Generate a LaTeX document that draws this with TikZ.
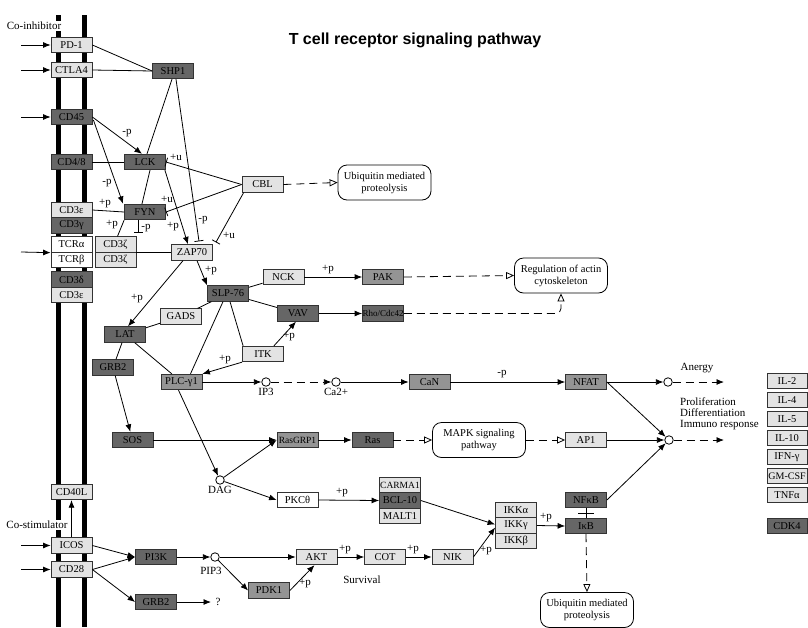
\documentclass[tikz,border=0pt]{standalone}
\usepackage{fontspec}
\setmainfont{Liberation Serif}
\newfontfamily\titlefont{Liberation Sans}
\usepackage{xcolor}
\usepackage{tikz}
\usetikzlibrary{calc,arrows.meta}

\definecolor{darkgene}{gray}{0.40}
\definecolor{midgene}{gray}{0.58}
\definecolor{lightgene}{gray}{0.89}

\tikzset{
  gene/.style={draw=black!80, line width=0.8pt, fill=lightgene, minimum width=41pt,
    minimum height=15.5pt, inner sep=0pt, font=\fontsize{10.5}{11}\selectfont},
  dark/.style={gene, fill=darkgene},
  mid/.style={gene, fill=midgene},
  blank/.style={gene, fill=white},
  cpd/.style={circle, draw, line width=0.8pt, fill=white, minimum size=8.5pt, inner sep=0pt},
  map/.style={draw, line width=0.8pt, rounded corners=9pt, minimum width=93pt,
    minimum height=35pt, inner sep=0pt, align=center, font=\fontsize{10.5}{12}\selectfont},
  lab/.style={inner sep=1pt, font=\fontsize{11}{11}\selectfont},
  link/.style={line width=0.8pt},
  act/.style={link, -{Latex[length=7.5pt,width=6pt]}},
  inh/.style={link, -{Bar[width=9pt,line width=0.8pt]}},
  ind/.style={link, dash pattern=on 8pt off 5pt, -{Triangle[open,length=8pt,width=7pt]}},
  indf/.style={link, dash pattern=on 8pt off 5pt, -{Latex[length=7.5pt,width=6pt]}},
}

\begin{document}
\begin{tikzpicture}[x=1pt,y=-1pt]
  \useasboundingbox (0,0) rectangle (808,627);

  % Title
  \node[font=\titlefont\bfseries\fontsize{16}{18}\selectfont] (title) at (415,40) {T cell receptor signaling pathway};

  % Membrane
  \draw[line width=5pt] (58.5,15) -- (58.5,627);
  \draw[line width=5pt] (84.5,15) -- (84.5,627);
  \node[lab,fill=white] (coinh) at (34,26) {Co-inhibitor};
  \node[lab,fill=white] (costim) at (37,525) {Co-stimulator};

  % Receptors on the membrane
  \node[gene] (PD1) at (71.5,45) {PD-1};
  \node[gene] (CTLA4) at (71.5,70) {CTLA4};
  \node[dark] (CD45) at (71.5,117) {CD45};
  \node[dark] (CD48) at (71.5,162) {CD4/8};
  \node[gene] (CD3e) at (71.5,210) {CD3ε};
  \node[dark] (CD3g) at (71.5,225.5) {CD3γ};
  \node[blank] (TCRa) at (71.5,244.5) {TCRα};
  \node[blank] (TCRb) at (71.5,260) {TCRβ};
  \node[gene] (CD3za) at (115.5,244.5) {CD3ζ};
  \node[gene] (CD3zb) at (115.5,260) {CD3ζ};
  \node[dark] (CD3d) at (71.5,279.5) {CD3δ};
  \node[gene] (CD3e2) at (71.5,295) {CD3ε};
  \node[gene] (CD40L) at (71.5,492) {CD40L};
  \node[gene] (ICOS) at (71.5,545.5) {ICOS};
  \node[gene] (CD28) at (71.5,569.5) {CD28};

  % Proximal signalling
  \node[dark] (SHP1) at (173,71) {SHP1};
  \node[dark] (LCK) at (145,162) {LCK};
  \node[dark] (FYN) at (145,212) {FYN};
  \node[gene] (CBL) at (262.5,184.5) {CBL};
  \node[gene] (ZAP70) at (192,252.5) {ZAP70};
  \node[dark] (SLP76) at (228,293.5) {SLP-76};
  \node[gene] (NCK) at (283.5,277) {NCK};
  \node[mid] (PAK) at (383,277) {PAK};
  \node[dark] (VAV) at (298,313.5) {VAV};
  \node[dark,font=\fontsize{9}{9}\selectfont] (RhoCdc) at (383,313.5) {Rho/Cdc42};
  \node[gene] (GADS) at (181,316.5) {GADS};
  \node[dark] (LAT) at (125,334.5) {LAT};
  \node[gene] (ITK) at (263,354) {ITK};
  \node[dark] (GRB2a) at (113,367.5) {GRB2};
  \node[mid] (PLC) at (181.5,382) {PLC-γ1};

  % Second messengers
  \node[cpd] (IP3) at (266,382) {};
  \node[cpd] (Ca) at (336,382) {};
  \node[cpd] (DAG) at (220,480) {};
  \node[cpd] (PIP3) at (215,557) {};
  \node[cpd] (Anergy) at (668,382) {};
  \node[cpd] (Prolif) at (669,440) {};
  \node[lab,below] (IP3lab) at (IP3.south) {IP3};
  \node[lab,below] (Calab) at (Ca.south) {Ca2+};
  \node[lab,below] (DAGlab) at (DAG.south) {DAG};
  \node[lab] (PIP3lab) at (211,571) {PIP3};

  % Downstream
  \node[mid] (CaN) at (429.5,382) {CaN};
  \node[mid] (NFAT) at (586,382) {NFAT};
  \node[gene] (AP1) at (586,440) {AP1};
  \node[map] (MAPK) at (479,440) {MAPK signaling\\pathway};
  \node[dark] (Ras) at (372.5,440) {Ras};
  \node[mid,font=\fontsize{9.5}{10}\selectfont] (RasGRP) at (297.5,440) {RasGRP1};
  \node[dark] (SOS) at (132.5,440) {SOS};
  \node[blank] (PKC) at (297.5,500) {PKCθ};
  \node[gene,font=\fontsize{9.5}{10}\selectfont] (CARMA) at (400,485) {CARMA1};
  \node[dark] (BCL) at (400,500.5) {BCL-10};
  \node[gene] (MALT) at (400,516) {MALT1};
  \node[gene] (IKKa) at (516,510) {IKKα};
  \node[gene] (IKKg) at (516,525.5) {IKKγ};
  \node[gene] (IKKb) at (516,541) {IKKβ};
  \node[dark] (NFkB) at (586,500) {NFκB};
  \node[dark] (IkB) at (586,526) {IκB};

  % Linked pathways
  \node[map] (UbqA) at (384.5,182.5) {Ubiquitin mediated\\proteolysis};
  \node[map] (UbqB) at (587,610) {Ubiquitin mediated\\proteolysis};
  \node[map] (Actin) at (561,275.5) {Regulation of actin\\cytoskeleton};

  % Co-stimulation branch
  \node[dark] (PI3K) at (156,557) {PI3K};
  \node[dark] (GRB2b) at (156,602) {GRB2};
  \node[mid] (PDK1) at (269,590.5) {PDK1};
  \node[gene] (AKT) at (316.5,557) {AKT};
  \node[gene] (COT) at (385,557) {COT};
  \node[gene] (NIK) at (452.5,557) {NIK};

  % Cytokines
  \node[gene,minimum width=40pt] (IL2) at (787,381) {IL-2};
  \node[gene,minimum width=40pt] (IL4) at (787,400) {IL-4};
  \node[gene,minimum width=40pt] (IL5) at (787,419) {IL-5};
  \node[gene,minimum width=40pt] (IL10) at (787,438) {IL-10};
  \node[gene,minimum width=40pt] (IFNg) at (787,457) {IFN-γ};
  \node[gene,minimum width=40pt,font=\fontsize{10}{10}\selectfont] (GMCSF) at (787,476) {GM-CSF};
  \node[gene,minimum width=40pt] (TNFa) at (787,495) {TNFα};
  \node[dark,minimum width=40pt] (CDK4) at (787,526) {CDK4};

  % Outcome texts
  \node[lab] (anergylab) at (697,368) {Anergy};
  \node[lab,anchor=west,align=left] (proliflab) at (679,414) {Proliferation\\Differentiation\\Immuno response};
  \node[lab] (survlab) at (362,580) {Survival};
  \node[lab] (unknown) at (218,602) {?};

  % Free ends
  \coordinate (inPD1) at (21,45);
  \coordinate (inCTLA4) at (21,70);
  \coordinate (inCD45) at (21,117);
  \coordinate (inTCR) at (21,252);
  \coordinate (inICOS) at (21,545.5);
  \coordinate (inCD28) at (21,569.5);
  \coordinate (fynbar) at ($(FYN.south)+(-7,13)$);
  \coordinate (outA) at (724,382);
  \coordinate (outB) at (724,440);
  \coordinate (toUnknown) at (211,602);

  % Inputs from outside
  \draw[act] (inPD1) -- (PD1.west);
  \draw[act] (inCTLA4) -- (CTLA4.west);
  \draw[act] (inCD45) -- (CD45.west);
  \draw[act] (inTCR) -- (TCRa.south west);
  \draw[act] (inICOS) -- (ICOS.west);
  \draw[act] (inCD28) -- (CD28.west);

  % Proximal links
  \draw[link] (PD1.east) -- (SHP1.west);
  \draw[link] (CTLA4.east) -- (SHP1.west);
  \draw[link] ($(SHP1.south)+(-1,0)$) -- ($(LCK.north)+(2,0)$);
  \draw[inh] ($(SHP1.south)+(3,0)$) -- ($(ZAP70.north)+(7,-3)$);
  \draw[act] (CD45.east) -- ($(LCK.north)+(-3,0)$);
  \draw[act] ($(CD45.east)+(1,3)$) -- ($(FYN.north west)+(-1,0)$);
  \draw[link] (CD48.east) -- (LCK.west);
  \draw[link] (CD3e.east) -- (FYN.west);
  \draw[link] ($(LCK.south)+(5,0)$) -- ($(FYN.north)+(-3,0)$);
  \draw[link] (FYN.south west) -- ($(CD3za.north)+(2,0)$);
  \draw[inh] ($(FYN.south)+(-7,0)$) -- (fynbar);
  \draw[act] ($(LCK.south east)+(-1,0)$) -- ($(ZAP70.north)+(-4,0)$);
  \draw[inh] (CBL.west) -- (LCK.east);
  \draw[inh] (CBL.west) -- (FYN.east);
  \draw[inh] ($(CBL.south west)+(2,0)$) -- ($(ZAP70.north east)+(3,-2)$);
  \draw[ind] (CBL.east) -- (UbqA.west);
  \draw[link] (CD3za.south east) -- (CD3za.south east -| ZAP70.west);

  % ZAP70 and adaptors
  \draw[act] ($(ZAP70.south)+(5,0)$) -- (SLP76.north west);
  \draw[act] ($(ZAP70.south)+(-9,0)$) -- ($(LAT.north)+(3,0)$);
  \draw[link] (SLP76) -- (NCK);
  \draw[link] (SLP76) -- (VAV);
  \draw[link] (SLP76) -- (GADS);
  \draw[link] (GADS) -- (LAT);
  \draw[link] ($(SLP76.south)+(2,0)$) -- ($(ITK.north west)+(1,0)$);
  \draw[link] ($(SLP76.south)+(-5,0)$) -- ($(PLC.north)+(9,0)$);
  \draw[act] ($(ITK.north east)+(-10,0)$) -- ($(VAV.south)+(-2,0)$);
  \draw[act] (ITK.south west) -- (PLC.north east);
  \draw[link] (LAT) -- (PLC);
  \draw[link] (LAT) -- (GRB2a);
  \draw[act] (GRB2a) -- (SOS);

  % Actin branch
  \draw[act] (NCK.east) -- (PAK.west);
  \draw[act] (VAV.east) -- (RhoCdc.west);
  \draw[ind] (PAK.east) -- (Actin.west);
  \draw[ind,rounded corners=5pt] (RhoCdc.east) -| (Actin.south);

  % Calcium branch
  \draw[act] (PLC.east) -- (IP3);
  \draw[indf] (IP3) -- (Ca);
  \draw[act] (Ca) -- (CaN.west);
  \draw[act] (CaN.east) -- (NFAT.west);
  \draw[act] (NFAT.east) -- (Anergy);
  \draw[indf] (Anergy) -- (outA);
  \draw[act] (NFAT.east) -- (Prolif);

  % DAG branch
  \draw[act] ($(PLC.south)+(-3,0)$) -- (DAG);
  \draw[act] (SOS.east) -- (RasGRP.west);
  \draw[act] (DAG) -- (RasGRP.west);
  \draw[act] (DAG) -- (PKC.west);
  \draw[act] (RasGRP.east) -- (Ras.west);
  \draw[ind] (Ras.east) -- (MAPK.west);
  \draw[ind] (MAPK.east) -- (AP1.west);
  \draw[act] (AP1.east) -- (Prolif);
  \draw[indf] (Prolif) -- (outB);
  \draw[act] (PKC.east) -- (BCL.west);
  \draw[act] (BCL.east) -- ($(IKKg.west)+(0,-1)$);
  \draw[act] (IKKg.east) -- (IkB.west);
  \draw[link] (NFkB.south) -- (IkB.north);
  \draw[link] ($(NFkB.south)!0.5!(IkB.north)+(-8,0)$) -- ++(16,0);
  \draw[act] (NFkB.east) -- (Prolif);
  \draw[ind] (IkB.south) -- (UbqB.north);

  % Co-stimulation links
  \draw[act] (ICOS.north) -- (CD40L.south);
  \draw[act] (ICOS.east) -- (PI3K.west);
  \draw[act] (CD28.east) -- (PI3K.west);
  \draw[act] (CD28.east) -- (GRB2b.west);
  \draw[act] (GRB2b.east) -- (toUnknown);
  \draw[act] (PI3K.east) -- (PIP3);
  \draw[act] (PIP3) -- (AKT.west);
  \draw[act] (PIP3) -- (PDK1.west);
  \draw[act] (PDK1.east) -- ($(AKT.south)+(-2,0)$);
  \draw[act] (AKT.east) -- (COT.west);
  \draw[act] (COT.east) -- (NIK.west);
  \draw[act] (NIK.east) -- ($(IKKg.west)+(0,2)$);

  % Edge labels
  \node[lab] (l1) at (127,133) {-p};
  \node[lab] (l2) at (107,183) {-p};
  \node[lab] (l3) at (176,157) {+u};
  \node[lab] (l4) at (167,199) {+u};
  \node[lab] (l5) at (229,235) {+u};
  \node[lab] (l6) at (105,204) {+p};
  \node[lab] (l7) at (112,225) {+p};
  \node[lab] (l8) at (146,228) {-p};
  \node[lab] (l9) at (173,227) {+p};
  \node[lab] (l10) at (203,220) {-p};
  \node[lab] (l11) at (211,271) {+p};
  \node[lab] (l12) at (137,299) {+p};
  \node[lab] (l13) at (289,337) {+p};
  \node[lab] (l14) at (225,360) {+p};
  \node[lab] (l15) at (328,270) {+p};
  \node[lab] (l16) at (502,374) {-p};
  \node[lab] (l17) at (342,493) {+p};
  \node[lab] (l18) at (486,551) {+p};
  \node[lab] (l19) at (546,518) {+p};
  \node[lab] (l20) at (345,550) {+p};
  \node[lab] (l21) at (413,550) {+p};
  \node[lab] (l22) at (305,584) {+p};
\end{tikzpicture}
\end{document}
